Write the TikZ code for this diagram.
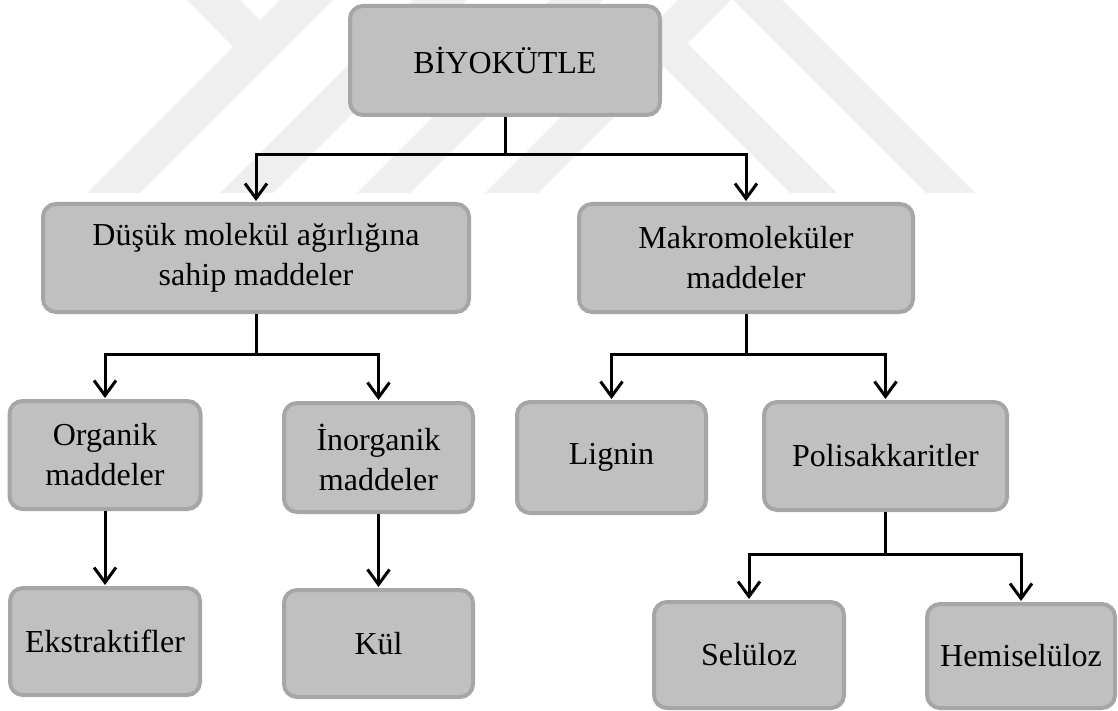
\documentclass[tikz,border=0pt]{standalone}
\usepackage{fontspec}
\setmainfont{Liberation Serif}
\usetikzlibrary{arrows.meta}
\definecolor{boxfill}{RGB}{192,192,192}
\definecolor{boxline}{RGB}{166,166,166}
\definecolor{wmark}{RGB}{239,239,239}
\begin{document}
\begin{tikzpicture}[x=1pt,y=-1pt,
  box/.style={draw=boxline, line width=4pt, fill=boxfill, rounded corners=13pt,
    align=center, inner sep=0pt, text=black, font=\fontsize{32}{40}\selectfont},
  conn/.style={line width=3pt, draw=black},
  arr/.style={conn, -{Straight Barb[length=15pt,width=22pt]}, shorten >=1pt},
  wm/.style={fill=wmark, draw=none}]
\useasboundingbox (0,0) rectangle (1118,711);
% watermark
\fill[wm] (87,193) -- (140,193) -- (333,0) -- (280,0) -- cycle;
\fill[wm] (187,0) -- (240,0) -- (260,20) -- (233,47) -- cycle;
\fill[wm] (220,193) -- (273,193) -- (466,0) -- (413,0) -- cycle;
\fill[wm] (357,193) -- (410,193) -- (603,0) -- (550,0) -- cycle;
\fill[wm] (485,193) -- (538,193) -- (731,0) -- (678,0) -- cycle;
\fill[wm] (790,193) -- (837,193) -- (686,42) -- (639,42) -- cycle;
\fill[wm] (733,0) -- (782,0) -- (975,193) -- (926,193) -- cycle;
% boxes
\node[box, minimum width=310pt, minimum height=109pt] (bio) at (505,60.5) {BİYOKÜTLE};
\node[box, minimum width=426pt, minimum height=108pt] (dusuk) at (256,258) {Düşük molekül ağırlığına\\sahip maddeler};
\node[box, minimum width=334pt, minimum height=108pt] (makro) at (746,258) {Makromoleküler\\maddeler};
\node[box, minimum width=191pt, minimum height=108pt] (organik) at (105,455) {Organik\\maddeler};
\node[box, minimum width=189pt, minimum height=109pt] (inorganik) at (378.5,457.5) {İnorganik\\maddeler};
\node[box, minimum width=189pt, minimum height=111pt] (lignin) at (611.5,457.5) {Lignin};
\node[box, minimum width=243pt, minimum height=108pt] (polisak) at (885.5,456) {Polisakkaritler};
\node[box, minimum width=190pt, minimum height=107pt] (ekstrakt) at (105,641.5) {Ekstraktifler};
\node[box, minimum width=189pt, minimum height=107pt] (kul) at (378.5,643.5) {Kül};
\node[box, minimum width=190pt, minimum height=106pt] (seluloz) at (749,655) {Selüloz};
\node[box, minimum width=188pt, minimum height=104pt] (hemi) at (1021,656) {Hemiselüloz};
% junctions
\path (bio.south) ++(0,38) coordinate (j0);
\path (dusuk.south) ++(0,40) coordinate (j1);
\path (makro.south) ++(0,40) coordinate (j2);
\path (polisak.south) ++(0,42) coordinate (j3);
% connectors
\draw[conn] (bio.south) -- (j0);
\draw[arr] (j0) -| (dusuk.north);
\draw[arr] (j0) -| (makro.north);
\draw[conn] (dusuk.south) -- (j1);
\draw[arr] (j1) -| (organik.north);
\draw[arr] (j1) -| (inorganik.north);
\draw[conn] (makro.south) -- (j2);
\draw[arr] (j2) -| (lignin.north);
\draw[arr] (j2) -| (polisak.north);
\draw[arr] (organik.south) -- (ekstrakt.north);
\draw[arr] (inorganik.south) -- (kul.north);
\draw[conn] (polisak.south) -- (j3);
\draw[arr] (j3) -| (seluloz.north);
\draw[arr] (j3) -| (hemi.north);
\end{tikzpicture}
\end{document}
